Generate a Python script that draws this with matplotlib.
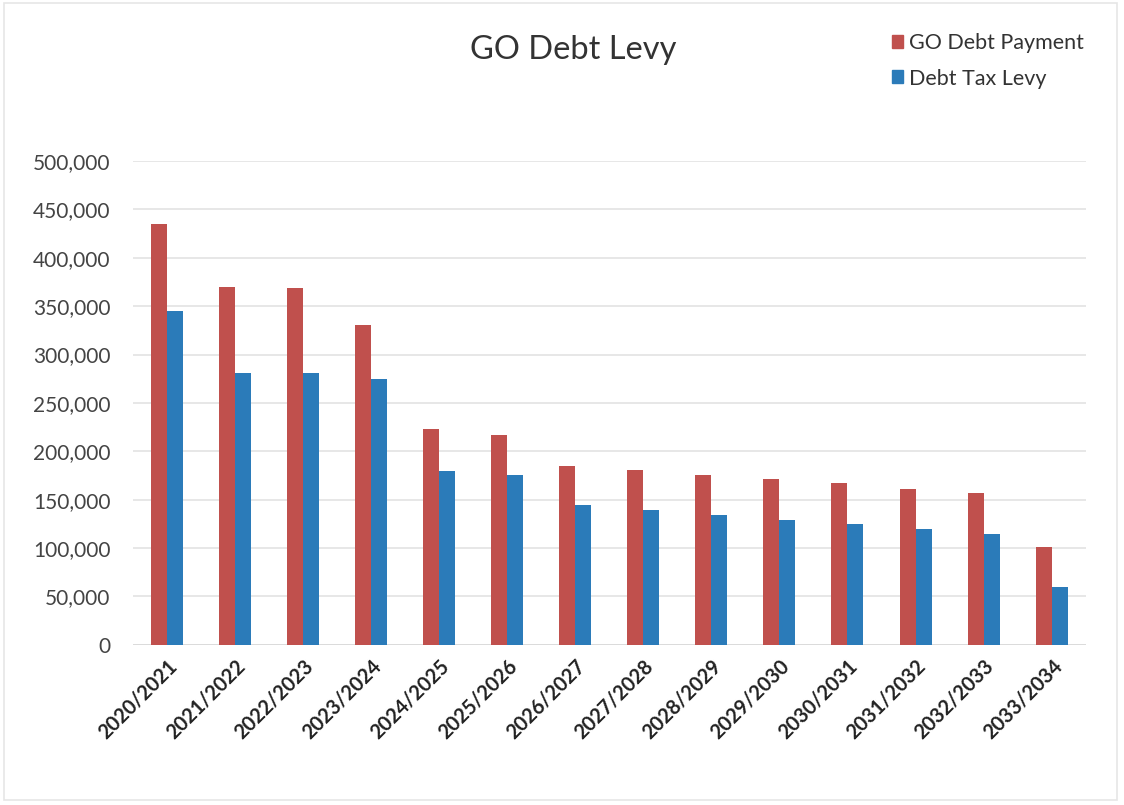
import numpy as np
import matplotlib.pyplot as plt
from matplotlib.patches import Patch
from matplotlib.ticker import FuncFormatter

plt.rcParams['font.family'] = ['Lato', 'DejaVu Sans']

years = ["2020/2021", "2021/2022", "2022/2023", "2023/2024", "2024/2025",
         "2025/2026", "2026/2027", "2027/2028", "2028/2029", "2029/2030",
         "2030/2031", "2031/2032", "2032/2033", "2033/2034"]
# GO Debt Payment
payment = [435000, 370000, 369000, 331000, 223000, 217000, 185000,
           181000, 176000, 171000, 167000, 161500, 157000, 101500]
# Debt Tax Levy
levy = [345000, 281000, 281000, 275000, 180000, 175000, 144000,
        139000, 134000, 129000, 125000, 120000, 114000, 60000]

red = "#C0504D"
blue = "#2B7BB9"

fig = plt.figure(figsize=(11.24, 8.05), dpi=100)
ax = fig.add_axes([0.118, 0.199, 0.848, 0.601])

x = np.arange(len(years))
w = 0.235
ax.bar(x - w / 2, payment, w, color=red, zorder=3)
ax.bar(x + w / 2, levy, w, color=blue, zorder=3)

ax.set_xlim(-0.5, len(years) - 0.5)
ax.set_ylim(0, 500000)
ax.set_yticks(np.arange(0, 500001, 50000))
ax.yaxis.set_major_formatter(FuncFormatter(lambda v, p: f"{int(v):,}"))
ax.grid(axis='y', color='#e3e3e3', linewidth=1.2, zorder=0)
for s in ax.spines.values():
    s.set_visible(False)
ax.axhline(0, color='#d9d9d9', linewidth=1.2, zorder=2)
ax.tick_params(axis='both', length=0)
ax.tick_params(axis='y', labelsize=15, labelcolor='#444444', pad=16)

ax.set_xticks(x)
ax.set_xticklabels(years, rotation=45, ha='right', rotation_mode='anchor',
                   fontsize=14.5, fontweight='bold', color='#222222')
ax.tick_params(axis='x', pad=8)

fig.text(0.510, 0.938, "GO Debt Levy", ha='center', va='center',
         fontsize=23.5, color='#333333')

handles = [Patch(color=red, label="GO Debt Payment"),
           Patch(color=blue, label="Debt Tax Levy")]
fig.legend(handles=handles, loc='upper left', bbox_to_anchor=(0.776, 0.983),
           frameon=False, fontsize=15.5, handlelength=0.55, handleheight=0.55,
           handletextpad=0.25, labelspacing=0.72, labelcolor='#333333')

# faint outer border, as in the scanned chart
fig.patches.append(plt.Rectangle((0.004, 0.006), 0.99, 0.99, transform=fig.transFigure,
                                 fill=False, edgecolor='#e6e6e6', linewidth=1.2))

fig.savefig("out.png", dpi=100, facecolor='white')
